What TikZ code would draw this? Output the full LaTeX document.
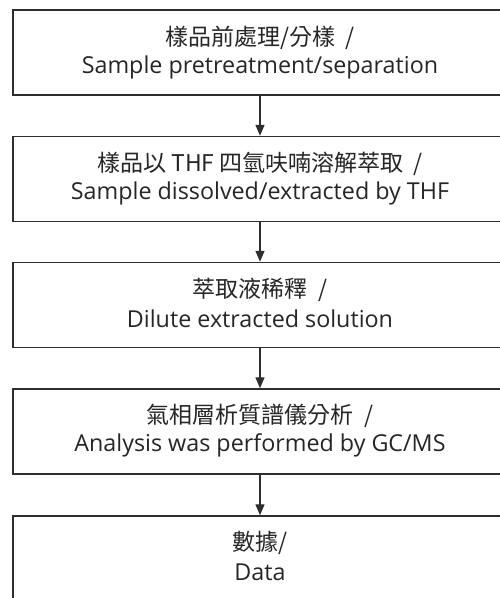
\documentclass[tikz,border=0pt]{standalone}
\usepackage{fontspec}
\setmainfont{Open Sans}
\newfontfamily\cjk{Noto Sans CJK TC}
\usetikzlibrary{arrows.meta}
\definecolor{ink}{HTML}{2E2E2E}
\definecolor{txt}{HTML}{262626}
\tikzset{
  stepbox/.style={draw=ink, line width=1.4pt, rectangle, minimum width=494pt, minimum height=85pt, inner sep=0pt},
  lbl/.style={text=txt, align=center, inner sep=0pt},
  flow/.style={draw=ink, line width=1.3pt, -{Triangle[width=9pt,length=11pt]}}
}
\newcommand{\enl}{\fontsize{23.3}{23.3}\selectfont}
\newcommand{\zhl}{\cjk\fontsize{23}{23}\selectfont}
\begin{document}
\begin{tikzpicture}[x=1pt,y=-1pt]
\clip (0,0) rectangle (500,598);
\useasboundingbox (0,0) rectangle (500,598);
\fill[white] (0,0) rectangle (500,598);
\node[stepbox] (b1) at (260,52.5) {};
\node[stepbox] (b2) at (260,179) {};
\node[stepbox] (b3) at (260,305) {};
\node[stepbox] (b4) at (260,431.5) {};
\node[stepbox] (b5) at (260,558.5) {};
\node[lbl] (t1a) at (260,38) {\zhl 樣品前處理/分樣\ \ /};
\node[lbl] (t1b) at (260,67) {\enl Sample pretreatment/separation};
\node[lbl] (t2a) at (260,164) {\zhl 樣品以 THF 四氫呋喃溶解萃取\ \ /};
\node[lbl] (t2b) at (260,193) {\enl Sample dissolved/extracted by THF};
\node[lbl] (t3a) at (260,290) {\zhl 萃取液稀釋\ \ /};
\node[lbl] (t3b) at (260,319) {\enl Dilute extracted solution};
\node[lbl] (t4a) at (260,416) {\zhl 氣相層析質譜儀分析\ \ /};
\node[lbl] (t4b) at (260,445) {\enl Analysis was performed by GC/MS};
\node[lbl] (t5a) at (260,543) {\zhl 數據/};
\node[lbl] (t5b) at (260,572) {\enl Data};
\draw[flow] (b1.south) -- (b2.north);
\draw[flow] (b2.south) -- (b3.north);
\draw[flow] (b3.south) -- (b4.north);
\draw[flow] (b4.south) -- (b5.north);
\end{tikzpicture}
\end{document}
